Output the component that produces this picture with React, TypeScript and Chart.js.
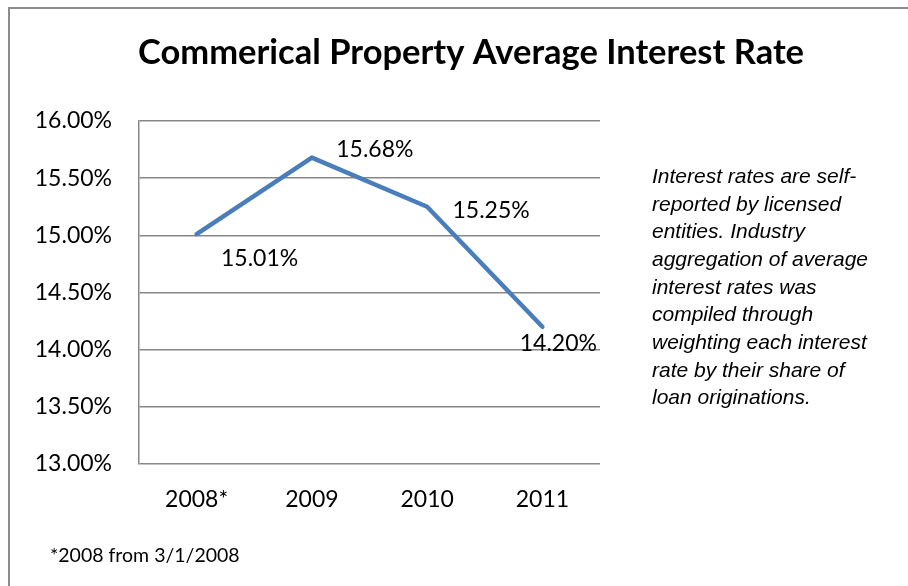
import React, { useEffect, useRef } from 'react';
import { Chart, registerables } from 'chart.js';

Chart.register(...registerables);

const categories = ['2008*', '2009', '2010', '2011'];
const rates = [15.01, 15.68, 15.25, 14.2];
const dataLabels = ['15.01%', '15.68%', '15.25%', '14.20%'];
const yMin = 13;
const yMax = 16;
const yStep = 0.5;
const titleText = 'Commerical Property Average Interest Rate';
const noteLines = [
  'Interest rates are self-',
  'reported by licensed',
  'entities. Industry',
  'aggregation of average',
  'interest rates was',
  'compiled through',
  'weighting each interest',
  'rate by their share of',
  'loan originations.',
];
const footnote = '*2008 from 3/1/2008';

// label placement relative to each point (style)
const LABEL_OFFSETS = [
  [63, 24],
  [63, -8],
  [64, 4],
  [16, 17],
];

const decorPlugin = {
  id: 'decor',
  beforeDraw(chart: any) {
    const ctx = chart.ctx;
    ctx.save();
    ctx.fillStyle = '#ffffff';
    ctx.fillRect(0, 0, chart.width, chart.height);
    ctx.strokeStyle = '#8c8c8c';
    ctx.lineWidth = 2;
    ctx.strokeRect(9, 8, 1000, 1000);
    ctx.restore();
  },
  afterDraw(chart: any) {
    const ctx = chart.ctx;
    ctx.save();
    // title
    ctx.fillStyle = '#000000';
    ctx.font = 'bold 34.5px Lato';
    ctx.textAlign = 'center';
    ctx.textBaseline = 'middle';
    ctx.fillText(titleText, 471, 53);

    // data labels
    const meta = chart.getDatasetMeta(0);
    ctx.font = '23px Lato';
    meta.data.forEach((pt: any, i: number) => {
      const [dx, dy] = LABEL_OFFSETS[i];
      ctx.fillText(dataLabels[i], pt.x + dx, pt.y + dy);
    });

    // side note
    ctx.font = 'italic 21px "Liberation Sans"';
    ctx.textAlign = 'left';
    noteLines.forEach((ln, i) => {
      ctx.fillText(ln, 652, 177 + i * 27.7);
    });

    // footnote
    ctx.font = '19.5px Lato';
    ctx.fillText(footnote, 50, 556);
    ctx.restore();
  },
};

export default function App() {
  const ref = useRef<HTMLCanvasElement | null>(null);
  useEffect(() => {
    if (!ref.current) return;
    const chart = new Chart(ref.current, {
      type: 'line',
      data: {
        labels: categories,
        datasets: [
          {
            data: rates,
            borderColor: '#4A7EBB',
            borderWidth: 4.5,
            pointRadius: 0,
            tension: 0,
            borderCapStyle: 'round',
            borderJoinStyle: 'round',
            fill: false,
          },
        ],
      },
      options: {
        animation: false,
        responsive: false,
        devicePixelRatio: 1,
        layout: { padding: { left: 0, top: 121, right: 308, bottom: 62 } },
        plugins: {
          legend: { display: false },
          title: { display: false },
          tooltip: { enabled: false },
        },
        scales: {
          x: {
            offset: true,
            grid: { display: false, drawTicks: false },
            border: { display: false },
            ticks: { color: '#000', font: { family: 'Lato', size: 23 }, padding: 22, maxRotation: 0 },
            afterFit: (s: any) => {
              s.height = 60;
            },
          },
          y: {
            min: yMin,
            max: yMax,
            grid: { color: '#878787', lineWidth: 1.5, drawTicks: false },
            border: { display: true, color: '#878787', width: 1.5 },
            ticks: {
              stepSize: yStep,
              color: '#000',
              font: { family: 'Lato', size: 23 },
              padding: 27,
              callback: (v: any) => Number(v).toFixed(2) + '%',
            },
            afterFit: (s: any) => {
              s.width = 139;
            },
          },
        },
      },
      plugins: [decorPlugin],
    });
    return () => chart.destroy();
  }, []);
  return (
    <div style={{ position: 'fixed', left: 0, top: 0, width: 908, height: 586 }}>
      <canvas ref={ref} width={908} height={586} style={{ width: 908, height: 586, display: 'block' }} />
    </div>
  );
}
